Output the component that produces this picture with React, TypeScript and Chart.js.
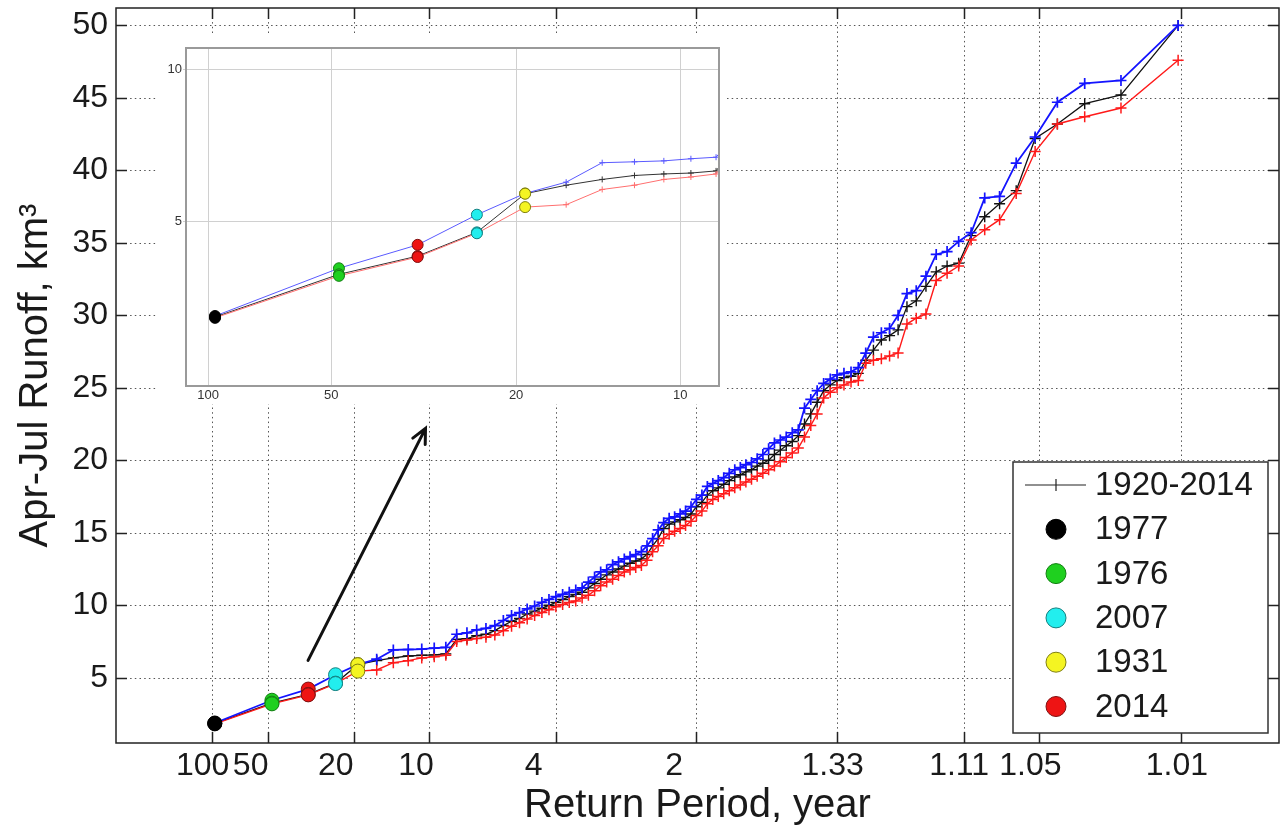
import React, { useEffect, useRef } from 'react';
import { Chart, registerables } from 'chart.js';

Chart.register(...registerables);

const FONT = "'Liberation Sans', Arial, Helvetica, sans-serif";

// ---- Axis ticks (non-exceedance probability -> return-period label) ----
const tickProbs = [0.01, 0.02, 0.05, 0.1, 0.25, 0.5, 0.75, 0.9, 0.95, 0.99];
const tickLabels = ['100  ', '50    ', '20    ', '10   ', '4     ', '2     ', '1.33 ', '1.11 ', '1.05  ', '1.01 '];
const yTicks = [5, 10, 15, 20, 25, 30, 35, 40, 45, 50];

const insetTickProbs = [0.01, 0.02, 0.05, 0.1];
const insetTickLabels = ['100', '50', '20', '10'];
const insetYTicks = [5, 10];

// ---- Sorted Apr-Jul runoff, km3 (rank 1 = driest) ----
const seriesBlack = [
  1.85, 3.25, 3.85, 4.63, 5.9, 6.18, 6.37, 6.5, 6.55, 6.58,
  6.65, 7.65, 7.7, 7.9, 8.0, 8.25, 8.6, 8.9, 9.1, 9.4,
  9.6, 9.8, 10.0, 10.2, 10.4, 10.6, 10.75, 10.9, 11.2, 11.5,
  11.8, 12.1, 12.3, 12.5, 12.7, 12.9, 13.05, 13.2, 13.5, 14.1,
  14.6, 15.3, 15.6, 15.75, 15.9, 16.05, 16.3, 16.8, 17.1, 17.6,
  17.9, 18.1, 18.35, 18.6, 18.85, 19.0, 19.2, 19.35, 19.6, 19.8,
  20.0, 20.4, 20.7, 21.0, 21.3, 21.7, 22.5, 23.2, 24.0, 24.8,
  25.2, 25.5, 25.7, 25.8, 26.0, 26.9, 27.6, 28.3, 28.6, 29.0,
  30.6, 31.0, 32.0, 33.0, 33.4, 33.6, 35.5, 36.8, 37.7, 38.6,
  42.2, 43.2, 44.6, 45.2, 50.0,
];
const seriesBlue = [
  1.88, 3.45, 4.22, 5.21, 5.91, 6.28, 6.92, 6.95, 6.98, 7.05,
  7.1, 8.0, 8.1, 8.3, 8.4, 8.6, 8.95, 9.3, 9.5, 9.75,
  9.95, 10.2, 10.4, 10.6, 10.75, 10.9, 11.05, 11.2, 11.6, 11.95,
  12.3, 12.45, 12.8, 13.0, 13.2, 13.35, 13.5, 13.7, 14.1, 14.6,
  15.2, 15.7, 16.0, 16.1, 16.3, 16.5, 16.8, 17.3, 17.6, 18.2,
  18.4, 18.6, 18.8, 19.1, 19.35, 19.5, 19.7, 19.85, 20.1, 20.4,
  20.8, 21.2, 21.4, 21.6, 21.9, 22.1, 23.6, 24.2, 24.8, 25.3,
  25.6, 25.9, 26.0, 26.1, 26.4, 27.4, 28.5, 28.8, 29.1, 30.0,
  31.5, 31.7, 32.7, 34.2, 34.4, 35.1, 35.7, 38.1, 38.2, 40.5,
  42.3, 44.7, 46.0, 46.2, 50.0,
];
const seriesRed = [
  1.82, 3.2, 3.82, 4.6, 5.46, 5.54, 6.04, 6.18, 6.37, 6.45,
  6.55, 7.5, 7.6, 7.7, 7.8, 7.95, 8.25, 8.55, 8.8, 9.05,
  9.3, 9.5, 9.7, 9.9, 10.05, 10.2, 10.3, 10.5, 10.7, 11.0,
  11.35, 11.6, 11.8, 12.05, 12.3, 12.45, 12.6, 12.75, 13.1, 13.7,
  14.1, 14.6, 14.9, 15.1, 15.3, 15.5, 15.8, 16.2, 16.5, 17.0,
  17.3, 17.5, 17.7, 17.9, 18.1, 18.3, 18.5, 18.7, 18.9, 19.1,
  19.35, 19.6, 19.9, 20.2, 20.5, 20.85, 21.6, 22.4, 23.2, 24.3,
  24.7, 25.0, 25.2, 25.4, 25.5, 26.7, 26.9, 27.0, 27.2, 27.4,
  29.4, 29.8, 30.1, 32.4, 32.9, 33.4, 35.2, 35.9, 36.6, 38.4,
  41.3, 43.2, 43.7, 44.3, 47.6,
];

const recordLabel = '1920-2014';
const highlightYears = ['1977', '1976', '2007', '1931', '2014'];
const highlightRanks = [1, 2, 4, 5, 3];
const highlightColors = ['#000000', '#1fd01f', '#22eeee', '#f4f422', '#ee1414'];
const highlightEdges = ['#000000', '#138013', '#138080', '#80800f', '#801010'];

// arrow: [non-exceedance probability, runoff]
const arrowFrom = [0.0312, 6.2];
const arrowTo = [0.0968, 22.2];

// ---- inverse standard normal CDF (probability axis) ----
function normInv(p: number): number {
  const a = [-3.969683028665376e1, 2.209460984245205e2, -2.759285104469687e2, 1.38357751867269e2, -3.066479806614716e1, 2.506628277459239];
  const b = [-5.447609879822406e1, 1.615858368580409e2, -1.556989798598866e2, 6.680131188771972e1, -1.328068155288572e1];
  const c = [-7.784894002430293e-3, -3.223964580411365e-1, -2.400758277161838, -2.549732539343734, 4.374664141464968, 2.938163982698783];
  const d = [7.784695709041462e-3, 3.224671290700398e-1, 2.445134137142996, 3.754408661907416];
  const pl = 0.02425;
  let q: number, r: number;
  if (p < pl) {
    q = Math.sqrt(-2 * Math.log(p));
    return (((((c[0] * q + c[1]) * q + c[2]) * q + c[3]) * q + c[4]) * q + c[5]) / ((((d[0] * q + d[1]) * q + d[2]) * q + d[3]) * q + 1);
  }
  if (p <= 1 - pl) {
    q = p - 0.5;
    r = q * q;
    return ((((((a[0] * r + a[1]) * r + a[2]) * r + a[3]) * r + a[4]) * r + a[5]) * q) / (((((b[0] * r + b[1]) * r + b[2]) * r + b[3]) * r + b[4]) * r + 1);
  }
  q = Math.sqrt(-2 * Math.log(1 - p));
  return -(((((c[0] * q + c[1]) * q + c[2]) * q + c[3]) * q + c[4]) * q + c[5]) / ((((d[0] * q + d[1]) * q + d[2]) * q + d[3]) * q + 1);
}

// Weibull plotting position of rank index i among n values
const plotX = (i: number, n: number) => normInv((i + 1) / (n + 1));

function lineDataset(vals: number[], color: string, width: number, radius: number, markerWidth: number, order: number) {
  return {
    data: vals.map((v, i) => ({ x: plotX(i, vals.length), y: v })),
    showLine: true,
    borderColor: color,
    backgroundColor: color,
    borderWidth: width,
    pointStyle: 'cross',
    pointRadius: radius,
    pointBorderWidth: markerWidth,
    pointBorderColor: color,
    pointBackgroundColor: color,
    tension: 0,
    order,
  };
}

function dotDatasets(radius: number) {
  const all = [seriesBlue, seriesBlack, seriesRed];
  return highlightYears.map((yr, k) => {
    const r = highlightRanks[k] - 1;
    return {
      label: yr,
      data: all.map((s) => ({ x: plotX(r, s.length), y: s[r] })),
      showLine: false,
      pointStyle: 'circle',
      pointRadius: radius,
      pointBackgroundColor: highlightColors[k],
      pointBorderColor: highlightEdges[k],
      pointBorderWidth: 1,
      order: 0,
    };
  });
}

const mainFrame = {
  id: 'mainFrame',
  beforeDatasetsDraw(chart: any) {
    const { ctx, chartArea: a, scales } = chart;
    ctx.save();
    ctx.strokeStyle = '#555';
    ctx.lineWidth = 1;
    ctx.setLineDash([1.5, 3.2]);
    tickProbs.forEach((p) => {
      const x = Math.round(scales.x.getPixelForValue(normInv(p))) + 0.5;
      ctx.beginPath();
      ctx.moveTo(x, a.top);
      ctx.lineTo(x, a.bottom);
      ctx.stroke();
    });
    yTicks.forEach((v) => {
      const y = Math.round(scales.y.getPixelForValue(v)) + 0.5;
      ctx.beginPath();
      ctx.moveTo(a.left, y);
      ctx.lineTo(a.right, y);
      ctx.stroke();
    });
    ctx.restore();
  },
  afterDatasetsDraw(chart: any) {
    const { ctx, chartArea: a, scales } = chart;
    const xs = scales.x;
    const ys = scales.y;
    ctx.save();
    // arrow
    const x1 = xs.getPixelForValue(normInv(arrowFrom[0]));
    const y1 = ys.getPixelForValue(arrowFrom[1]);
    const x2 = xs.getPixelForValue(normInv(arrowTo[0]));
    const y2 = ys.getPixelForValue(arrowTo[1]);
    ctx.strokeStyle = '#111';
    ctx.lineWidth = 3;
    ctx.lineCap = 'round';
    ctx.beginPath();
    ctx.moveTo(x1, y1);
    ctx.lineTo(x2, y2);
    const ang = Math.atan2(y2 - y1, x2 - x1);
    const hl = 16;
    ctx.moveTo(x2 + hl * Math.cos(ang + Math.PI - 0.45), y2 + hl * Math.sin(ang + Math.PI - 0.45));
    ctx.lineTo(x2, y2);
    ctx.lineTo(x2 + hl * Math.cos(ang + Math.PI + 0.45), y2 + hl * Math.sin(ang + Math.PI + 0.45));
    ctx.stroke();

    // box + inward ticks
    ctx.lineCap = 'butt';
    ctx.strokeStyle = '#222';
    ctx.lineWidth = 1.5;
    ctx.strokeRect(a.left, a.top, a.right - a.left, a.bottom - a.top);
    const tl = 11;
    ctx.beginPath();
    tickProbs.forEach((p) => {
      const x = Math.round(xs.getPixelForValue(normInv(p))) + 0.5;
      ctx.moveTo(x, a.bottom);
      ctx.lineTo(x, a.bottom - tl);
      ctx.moveTo(x, a.top);
      ctx.lineTo(x, a.top + tl);
    });
    yTicks.forEach((v) => {
      const y = Math.round(ys.getPixelForValue(v)) + 0.5;
      ctx.moveTo(a.left, y);
      ctx.lineTo(a.left + tl, y);
      ctx.moveTo(a.right, y);
      ctx.lineTo(a.right - tl, y);
    });
    ctx.stroke();

    // legend
    const l = a.right - 266;
    const t = a.bottom - 281;
    const r = a.right - 11;
    const b = a.bottom - 10;
    ctx.fillStyle = '#fff';
    ctx.fillRect(l, t, r - l, b - t);
    ctx.strokeStyle = '#333';
    ctx.lineWidth = 1.5;
    ctx.strokeRect(l, t, r - l, b - t);
    const rowH = 44.3;
    const y0 = t + 23;
    const mx = l + 43;
    const tx = l + 82;
    ctx.font = `33px ${FONT}`;
    ctx.textBaseline = 'middle';
    ctx.textAlign = 'left';
    ctx.strokeStyle = '#222';
    ctx.lineWidth = 1.2;
    ctx.beginPath();
    ctx.moveTo(l + 12, y0);
    ctx.lineTo(l + 73, y0);
    ctx.moveTo(mx, y0 - 6);
    ctx.lineTo(mx, y0 + 6);
    ctx.stroke();
    ctx.fillStyle = '#1a1a1a';
    ctx.fillText(recordLabel, tx, y0 + 1);
    highlightYears.forEach((yr, k) => {
      const y = y0 + (k + 1) * rowH;
      ctx.beginPath();
      ctx.arc(mx, y, 10, 0, Math.PI * 2);
      ctx.fillStyle = highlightColors[k];
      ctx.fill();
      ctx.strokeStyle = highlightEdges[k];
      ctx.lineWidth = 1;
      ctx.stroke();
      ctx.fillStyle = '#1a1a1a';
      ctx.fillText(yr, tx, y + 1);
    });
    ctx.restore();
  },
};

const insetFrame = {
  id: 'insetFrame',
  beforeDatasetsDraw(chart: any) {
    const { ctx, chartArea: a, scales } = chart;
    ctx.save();
    ctx.strokeStyle = '#d0d0d0';
    ctx.lineWidth = 1;
    insetTickProbs.forEach((p) => {
      const x = Math.round(scales.x.getPixelForValue(normInv(p))) + 0.5;
      ctx.beginPath();
      ctx.moveTo(x, a.top);
      ctx.lineTo(x, a.bottom);
      ctx.stroke();
    });
    insetYTicks.forEach((v) => {
      const y = Math.round(scales.y.getPixelForValue(v)) + 0.5;
      ctx.beginPath();
      ctx.moveTo(a.left - 3, y);
      ctx.lineTo(a.right, y);
      ctx.stroke();
    });
    ctx.restore();
  },
  afterDatasetsDraw(chart: any) {
    const { ctx, chartArea: a } = chart;
    ctx.save();
    ctx.strokeStyle = '#9a9a9a';
    ctx.lineWidth = 2;
    ctx.strokeRect(a.left, a.top, a.right - a.left, a.bottom - a.top);
    ctx.restore();
  },
};

function mainConfig(): any {
  return {
    type: 'scatter',
    data: {
      datasets: [
        lineDataset(seriesBlack, '#111111', 1.3, 5.5, 1.4, 3),
        lineDataset(seriesRed, '#ff1a1a', 1.4, 5.5, 1.5, 2),
        lineDataset(seriesBlue, '#1414ff', 1.8, 5.5, 1.7, 1),
        ...dotDatasets(7),
      ],
    },
    options: {
      animation: false,
      responsive: true,
      maintainAspectRatio: false,
      events: [],
      layout: { padding: { left: 0, right: 6, top: 8, bottom: 0 } },
      plugins: { legend: { display: false }, tooltip: { enabled: false } },
      scales: {
        x: {
          type: 'linear',
          position: 'bottom',
          min: -2.785,
          max: 2.795,
          grid: { display: false, drawTicks: false },
          border: { display: false },
          afterBuildTicks: (s: any) => {
            s.ticks = tickProbs.map((p) => ({ value: normInv(p) }));
          },
          afterFit: (s: any) => {
            s.height = 93;
            s.paddingLeft = 0;
            s.paddingRight = 0;
          },
          ticks: {
            autoSkip: false,
            maxRotation: 0,
            minRotation: 0,
            padding: 4,
            color: '#1a1a1a',
            font: { family: FONT, size: 32 },
            callback: (_v: any, i: number) => tickLabels[i],
          },
          title: {
            display: true,
            text: 'Return Period, year',
            color: '#1a1a1a',
            font: { family: FONT, size: 40 },
            padding: { top: 0, bottom: 6 },
          },
        },
        y: {
          type: 'linear',
          position: 'left',
          min: 0.5,
          max: 51.2,
          grid: { display: false, drawTicks: false },
          border: { display: false },
          afterBuildTicks: (s: any) => {
            s.ticks = yTicks.map((v) => ({ value: v }));
          },
          afterFit: (s: any) => {
            s.width = 116;
            s.paddingTop = 0;
            s.paddingBottom = 0;
          },
          ticks: {
            padding: 8,
            color: '#1a1a1a',
            font: { family: FONT, size: 32 },
          },
          title: {
            display: true,
            text: 'Apr-Jul Runoff, km³',
            color: '#1a1a1a',
            font: { family: FONT, size: 40 },
            padding: { top: 12, bottom: 0 },
          },
        },
      },
    },
    plugins: [mainFrame],
  };
}

function insetConfig(): any {
  return {
    type: 'scatter',
    data: {
      datasets: [
        lineDataset(seriesBlack, '#333333', 1, 3, 1, 3),
        lineDataset(seriesRed, '#ff6f6f', 1, 3, 1, 2),
        lineDataset(seriesBlue, '#5a5aff', 1, 3, 1, 1),
        ...dotDatasets(5.5),
      ],
    },
    options: {
      animation: false,
      responsive: true,
      maintainAspectRatio: false,
      events: [],
      layout: { padding: { left: 0, right: 7, top: 12, bottom: 0 } },
      plugins: { legend: { display: false }, tooltip: { enabled: false } },
      scales: {
        x: {
          type: 'linear',
          position: 'bottom',
          min: -2.3752,
          max: -1.196,
          grid: { display: false, drawTicks: false },
          border: { display: false },
          afterBuildTicks: (s: any) => {
            s.ticks = insetTickProbs.map((p) => ({ value: normInv(p) }));
          },
          afterFit: (s: any) => {
            s.height = 18;
            s.paddingLeft = 0;
            s.paddingRight = 0;
          },
          ticks: {
            autoSkip: false,
            maxRotation: 0,
            minRotation: 0,
            padding: 2,
            color: '#333',
            font: { family: FONT, size: 13 },
            callback: (_v: any, i: number) => insetTickLabels[i],
          },
        },
        y: {
          type: 'linear',
          position: 'left',
          min: -0.42,
          max: 10.69,
          grid: { display: false, drawTicks: false },
          border: { display: false },
          afterBuildTicks: (s: any) => {
            s.ticks = insetYTicks.map((v) => ({ value: v }));
          },
          afterFit: (s: any) => {
            s.width = 28;
            s.paddingTop = 0;
            s.paddingBottom = 0;
          },
          ticks: {
            padding: 4,
            color: '#333',
            font: { family: FONT, size: 13 },
          },
        },
      },
    },
    plugins: [insetFrame],
  };
}

export default function App() {
  const mainRef = useRef<HTMLCanvasElement>(null);
  const insetRef = useRef<HTMLCanvasElement>(null);

  useEffect(() => {
    Chart.defaults.font.family = FONT;
    const main = new Chart(mainRef.current as HTMLCanvasElement, mainConfig());
    const inset = new Chart(insetRef.current as HTMLCanvasElement, insetConfig());
    return () => {
      main.destroy();
      inset.destroy();
    };
  }, []);

  return (
    <div style={{ position: 'absolute', left: 0, top: 0, width: 1287, height: 836, background: '#fff' }}>
      <div style={{ position: 'absolute', left: 0, top: 0, width: 1287, height: 836 }}>
        <canvas ref={mainRef} />
      </div>
      <div style={{ position: 'absolute', left: 158, top: 36, width: 568, height: 368, background: '#fff' }}>
        <canvas ref={insetRef} />
      </div>
    </div>
  );
}
